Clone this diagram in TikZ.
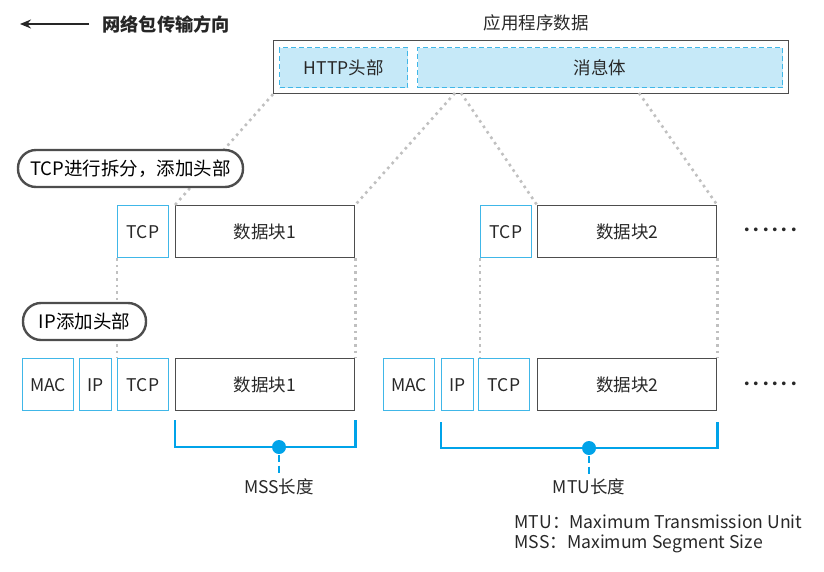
\documentclass[tikz,border=0pt]{standalone}
\usepackage{fontspec}
\setmainfont{Noto Sans CJK SC}
\usetikzlibrary{arrows.meta,positioning}
\definecolor{hdrcyan}{RGB}{64,183,232}
\definecolor{brcyan}{RGB}{0,163,233}
\definecolor{bodyfill}{RGB}{198,233,248}
\definecolor{boxgray}{RGB}{77,77,77}
\definecolor{dotgray}{RGB}{192,192,192}
\definecolor{txtgray}{RGB}{40,40,40}
\newcommand{\segfont}{\fontsize{17.5}{20}\selectfont}
\newcommand{\stepfont}{\fontsize{18.5}{21}\selectfont}
\newcommand{\moredots}{\makebox[9.4pt]{·}\makebox[9.4pt]{·}\makebox[9.4pt]{·}\makebox[9.4pt]{·}\makebox[9.4pt]{·}\makebox[9.4pt]{·}}

\begin{document}
\begin{tikzpicture}[x=1pt,y=-1pt,
  seg/.style={draw=hdrcyan,line width=1.2pt,minimum height=52pt,inner sep=0pt,anchor=north west,font=\segfont,text=txtgray},
  datablk/.style={seg,draw=boxgray,minimum width=179pt},
  appfld/.style={draw=hdrcyan,dash pattern=on 5pt off 3pt,line width=1.4pt,fill=bodyfill,minimum height=40pt,inner sep=0pt,anchor=north west,font=\segfont,text=txtgray},
  stepnote/.style={draw=boxgray,line width=2.4pt,fill=white,rounded corners=18pt,minimum height=37pt,inner sep=0pt,font=\stepfont,text=black},
  split/.style={dotgray,line width=2.6pt,dash pattern=on 2.6pt off 4pt},
  lenbr/.style={brcyan,line width=2.6pt},
  lenlbl/.style={font=\segfont,text=txtgray},
  note/.style={anchor=west,font=\fontsize{17.6}{21}\selectfont,text=txtgray}]
\useasboundingbox (0,0) rectangle (824,571);

% direction of travel
\coordinate (dirR) at (89,24);
\coordinate (dirL) at (20,24);
\draw[-{Stealth[length=11pt,width=9pt]},line width=1.6pt,black!85] (dirR) -- (dirL);
\node[anchor=west,font=\fontsize{18.2}{21}\selectfont\bfseries,text=black!85] (dirtxt) at (99,24) {网络包传输方向};

% application data
\node[font=\segfont,text=txtgray] (apptxt) at (536,23) {应用程序数据};
\node[draw=boxgray,line width=1.2pt,minimum width=515pt,minimum height=53pt,anchor=north west] (appdata) at (273,40) {};
\node[appfld,minimum width=128pt] (http) at (279,47) {HTTP头部};
\node[appfld,minimum width=365pt] (body) at (417,47) {消息体};

% TCP segments
\node[seg,minimum width=51pt] (tcpA) at (117,205) {TCP};
\node[datablk] (blkA) at (175,205) {数据块1};
\node[seg,minimum width=51pt] (tcpB) at (480,205) {TCP};
\node[datablk] (blkB) at (537,205) {数据块2};
\node[font=\segfont,text=txtgray] (moreA) at (770.5,232) {\moredots};

% IP packets
\node[seg,minimum width=51pt] (macA) at (22,358) {MAC};
\node[seg,minimum width=32pt] (ipA) at (79,358) {IP};
\node[seg,minimum width=51pt] (tcpAb) at (117,358) {TCP};
\node[datablk] (blkAb) at (175,358) {数据块1};
\node[seg,minimum width=51pt] (macB) at (383,358) {MAC};
\node[seg,minimum width=32pt] (ipB) at (441,358) {IP};
\node[seg,minimum width=51pt] (tcpBb) at (478,358) {TCP};
\node[datablk] (blkBb) at (537,358) {数据块2};
\node[font=\segfont,text=txtgray] (moreB) at (770.5,386) {\moredots};

% split lines
\coordinate (cutA) at (455,93);
\coordinate (cutB) at (461,93);
\coordinate (cutC) at (639,93);
\draw[split] (appdata.south west) -- (blkA.north west);
\draw[split] (cutA) -- (blkA.north east);
\draw[split] (cutB) -- (blkB.north west);
\draw[split] (cutC) -- (blkB.north east);
\draw[split] (tcpA.south west) -- (tcpAb.north west);
\draw[split] (blkA.south east) -- (blkAb.north east);
\draw[split] (tcpB.south west) -- (tcpB.south west |- tcpBb.north);
\draw[split] (blkB.south east) -- (blkBb.north east);

% step labels
\node[stepnote,minimum width=225pt] (tcpstep) at (130.5,168.5) {TCP进行拆分，添加头部};
\node[stepnote,minimum width=123pt] (ipstep) at (84.5,321.5) {IP添加头部};

% lengths
\coordinate (mssL) at ([yshift=-9pt]blkAb.south west);
\coordinate (mssR) at ([yshift=-9pt]blkAb.south east);
\coordinate (mssM) at (279,447);
\node[lenlbl] (msslbl) at (279,487) {MSS长度};
\draw[lenbr] (mssL) |- (mssM) -| (mssR);
\fill[brcyan] (mssM) circle (7pt);
\draw[lenbr,dash pattern=on 7pt off 3.5pt,shorten <=8pt] (mssM) -- (msslbl.north);

\coordinate (mtuL) at ([yshift=-11pt]ipB.south west);
\coordinate (mtuR) at ([yshift=-11pt]blkBb.south east);
\coordinate (mtuM) at (589,448);
\node[lenlbl] (mtulbl) at (589,487) {MTU长度};
\draw[lenbr] (mtuL) |- (mtuM) -| (mtuR);
\fill[brcyan] (mtuM) circle (7pt);
\draw[lenbr,dash pattern=on 7pt off 3.5pt,shorten <=8pt] (mtuM) -- (mtulbl.north);

% legend
\node[note] (mtunote) at (511,522) {MTU：Maximum Transmission Unit};
\node[note] (mssnote) at (511,544) {MSS：Maximum Segment Size};
\end{tikzpicture}
\end{document}
